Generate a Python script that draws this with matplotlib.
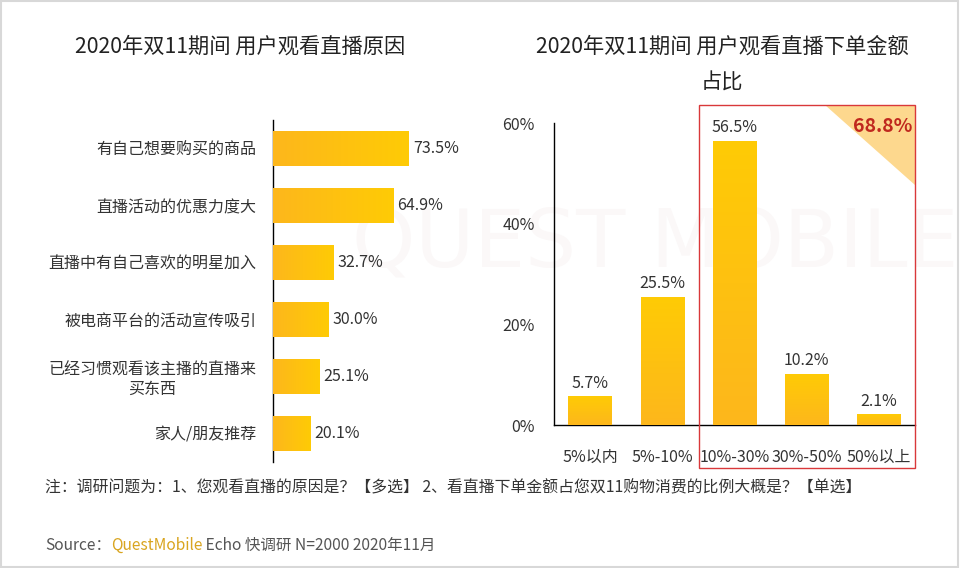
import matplotlib
matplotlib.use('Agg')
import matplotlib.pyplot as plt
import matplotlib.patches as mpatches
from matplotlib.colors import LinearSegmentedColormap
import numpy as np

plt.rcParams['font.family'] = ['Noto Sans CJK SC', 'DejaVu Sans']

# data: reasons for watching live streams
reasons = ['有自己想要购买的商品', '直播活动的优惠力度大', '直播中有自己喜欢的明星加入',
           '被电商平台的活动宣传吸引', '已经习惯观看该主播的直播来\n买东西', '家人/朋友推荐']
reason_pct = [73.5, 64.9, 32.7, 30.0, 25.1, 20.1]

# data: share of order amount
amount_cats = ['5%以内', '5%-10%', '10%-30%', '30%-50%', '50%以上']
amount_pct = [5.7, 25.5, 56.5, 10.2, 2.1]
highlight_total = '68.8%'

bar_color = '#FDBF1B'
text_color = '#333333'
grad = LinearSegmentedColormap.from_list('bar', ['#FDB71C', '#FFCB05'])

fig = plt.figure(figsize=(9.6, 5.68), dpi=100)
W, H = 960.0, 568.0

def px_axes(x0, y0, x1, y1):
    # pixel box (top-left origin) -> figure axes
    return fig.add_axes([x0 / W, 1 - y1 / H, (x1 - x0) / W, (y1 - y0) / H])

def fill_gradient(ax, bars, horizontal):
    # paint each bar with a base->tip gradient, clipped to the bar
    g = np.linspace(0, 1, 256)
    for b in bars:
        x0, y0 = b.get_x(), b.get_y()
        x1, y1 = x0 + b.get_width(), y0 + b.get_height()
        if horizontal:
            img = g.reshape(1, -1)
        else:
            img = g.reshape(-1, 1)
        im = ax.imshow(img, cmap=grad, extent=[x0, x1, y0, y1], origin='lower',
                       aspect='auto', zorder=3, interpolation='bilinear')
        im.set_clip_path(b)
        b.set_facecolor('none')

# very faint watermark behind everything
fig.text(655 / W, 1 - 245 / H, 'QUEST MOBILE', fontsize=58, color='#FBF8F8',
         ha='center', va='center', zorder=-5, family='DejaVu Sans')

# outer frame
fig.patches.append(mpatches.Rectangle((0.001, 0.002), 0.997, 0.996, transform=fig.transFigure,
                                      fill=False, ec='#D8D8D8', lw=1.5))

# ---- left chart ----
ax1 = px_axes(273, 120, 458, 462)
ax1.patch.set_alpha(0)
y = np.arange(len(reasons))
bars1 = ax1.barh(y, reason_pct, height=0.6, color=bar_color, lw=0, zorder=3)
fill_gradient(ax1, bars1, horizontal=True)
for yi, v in zip(y, reason_pct):
    ax1.annotate('%.1f%%' % v, xy=(v, yi), xytext=(3, 0), textcoords='offset points',
                 va='center', ha='left', fontsize=11.5, color=text_color)
ax1.set_xlim(0, 100)
ax1.set_ylim(len(reasons) - 0.5, -0.5)
ax1.set_yticks(y)
ax1.set_yticklabels(reasons, fontsize=11.5, color=text_color)
for lab in ax1.get_yticklabels():
    lab.set_multialignment('center')
ax1.tick_params(axis='y', length=0, pad=12)
ax1.set_xticks([])
for s in ['top', 'right', 'bottom']:
    ax1.spines[s].set_visible(False)
ax1.spines['left'].set_color('black')
ax1.spines['left'].set_linewidth(1)

fig.text(240 / W, 1 - 47 / H, '2020年双11期间 用户观看直播原因', fontsize=15.3,
         fontweight='medium', ha='center', va='center', color='#222222')

# ---- right chart ----
ax2 = px_axes(554, 123, 915, 425)
ax2.patch.set_alpha(0)
x = np.arange(len(amount_cats))
bars2 = ax2.bar(x, amount_pct, width=0.6, color=bar_color, lw=0, zorder=3)
fill_gradient(ax2, bars2, horizontal=False)
for xi, v in zip(x, amount_pct):
    ax2.annotate('%.1f%%' % v, xy=(xi, v), xytext=(0, 3), textcoords='offset points',
                 ha='center', va='bottom', fontsize=11.5, color=text_color)
ax2.set_xlim(-0.5, len(amount_cats) - 0.5)
ax2.set_ylim(0, 60)
ax2.set_yticks([0, 20, 40, 60])
ax2.set_yticklabels(['%d%%' % t for t in [0, 20, 40, 60]], fontsize=11.5, color=text_color)
ax2.set_xticks(x)
ax2.set_xticklabels(amount_cats, fontsize=11.5, color=text_color)
ax2.tick_params(axis='y', length=0, pad=14)
ax2.tick_params(axis='x', length=0, pad=17)
for s in ['top', 'right']:
    ax2.spines[s].set_visible(False)
for s in ['left', 'bottom']:
    ax2.spines[s].set_color('black')
    ax2.spines[s].set_linewidth(1)

# highlight box around 10%+ categories
box_l, box_r = 699 / W, 915 / W
box_t, box_b = 1 - 105 / H, 1 - 468 / H
fig.patches.append(mpatches.Rectangle((box_l, box_b), box_r - box_l, box_t - box_b,
                                      transform=fig.transFigure, fill=False,
                                      ec='#D9383A', lw=1, zorder=5))
tri = mpatches.Polygon([(825 / W, box_t), (box_r, box_t), (box_r, 1 - 185 / H)],
                       closed=True, transform=fig.transFigure, fc='#FDD88E', ec='none', zorder=4)
fig.patches.append(tri)
fig.text(883 / W, 1 - 126 / H, highlight_total, fontsize=14, fontweight='bold',
         color='#C0281E', ha='center', va='center', zorder=6)

fig.text(722 / W, 1 - 47 / H, '2020年双11期间 用户观看直播下单金额', fontsize=15.3,
         fontweight='medium', ha='center', va='center', color='#222222')
fig.text(722 / W, 1 - 83 / H, '占比', fontsize=15.3,
         fontweight='medium', ha='center', va='center', color='#222222')

# notes
fig.text(45 / W, 1 - 488 / H,
         '注：调研问题为：1、您观看直播的原因是？【多选】 2、看直播下单金额占您双11购物消费的比例大概是？【单选】',
         fontsize=11.4, ha='left', va='center', color=text_color)
t1 = fig.text(45 / W, 1 - 545 / H, 'Source：', fontsize=11.2, ha='left', va='center', color='#555555')
fig.canvas.draw()
r = fig.canvas.get_renderer()
bb = t1.get_window_extent(r)
t2 = fig.text(bb.x1 / W, 1 - 545 / H, 'QuestMobile', fontsize=11.2, ha='left', va='center', color='#D9A520')
bb2 = t2.get_window_extent(r)
fig.text(bb2.x1 / W, 1 - 545 / H, ' Echo 快调研 N=2000 2020年11月', fontsize=11.2,
         ha='left', va='center', color='#555555')

fig.savefig('out.png', dpi=100)
